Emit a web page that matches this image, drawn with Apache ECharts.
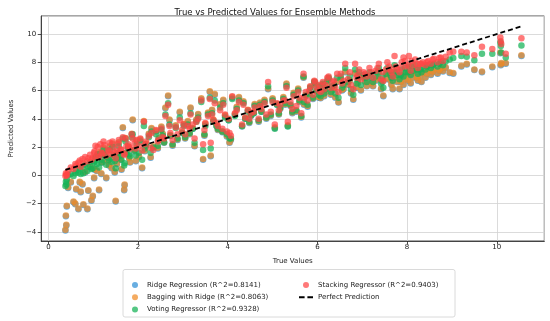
<!DOCTYPE html>
<html><head><meta charset="utf-8">
<script src="https://cdn.jsdelivr.net/npm/echarts@6/dist/echarts.min.js"></script>
<style>html,body{margin:0;padding:0;background:#fff}#c{width:550px;height:321px}</style>
</head><body><div id="c"></div>
<script>
const trueVals = [0.38,0.40,0.39,0.41,0.44,0.50,0.56,0.60,0.62,0.67,
0.70,0.72,0.76,0.78,0.82,0.87,0.89,0.93,0.96,0.99,
1.02,1.05,1.08,1.13,1.16,1.20,1.25,1.29,1.33,1.37,
1.41,1.45,1.50,1.53,1.57,1.61,1.66,1.69,1.70,1.74,
1.78,1.82,1.88,1.92,1.97,
2.02,2.09,2.13,2.18,2.24,2.28,2.34,2.40,2.46,2.52,
2.58,2.61,2.67,2.72,2.77,2.84,2.93,2.98,3.05,3.11,
3.17,3.22,3.26,3.34,3.41,3.45,3.50,3.56,3.60,3.62,
3.68,3.71,3.78,3.83,3.88,3.94,
3.98,4.04,4.07,4.10,4.16,4.25,4.32,4.39,4.45,4.52,
4.60,4.69,4.75,4.82,4.90,4.96,5.05,5.10,5.17,5.24,
5.31,5.34,5.40,5.47,5.53,5.60,5.64,5.69,5.74,5.78,
5.84,5.90,5.93,5.98,
6.03,6.07,6.12,6.18,6.25,6.30,6.37,6.44,6.47,6.55,
6.62,6.68,6.75,6.80,6.84,6.90,6.97,7.03,7.10,7.16,
7.24,7.30,7.37,7.42,7.47,7.53,7.60,7.65,7.68,7.72,
7.78,7.83,7.88,7.92,7.97,
8.04,8.08,8.13,8.18,8.24,8.29,8.35,8.41,8.47,8.53,
8.60,8.68,8.75,8.80,8.86,8.95,9.03,9.21,9.33,9.50,
9.67,9.90,10.08,10.09,10.10,10.20,10.55,
1.03,1.10,1.18,1.23,1.35,1.43,1.48,1.55,1.63,1.72,1.80,1.86,1.95,
2.05,2.15,2.30,2.44,2.55,2.70,2.88,3.02,3.15,3.30,3.48,3.65,3.75,3.90,
4.02,4.20,4.35,4.48,4.58,4.72,4.86,5.00,5.14,5.28,5.44,5.57,5.70,5.82,5.95,
6.05,6.15,6.22,6.33,6.40,6.52,6.58,6.72,6.87,6.93,7.07,7.20,7.34,7.45,7.56,7.63,
7.75,7.86,7.95,8.02,8.10,8.22,8.32,8.44,8.57,8.72];

const ridgePred = [-3.9,-3.55,-2.9,-2.2,-0.9,-0.5,-1.9,-2.05,-1.0,-2.4,
-0.5,-1.2,-0.65,-2.1,0.2,-2.4,-1.1,0.6,-1.8,-1.5,
-0.2,1.2,0.3,-1.05,1.6,0.9,1.4,-0.2,1.0,2.0,
0.5,1.3,-1.85,0.8,2.3,1.1,3.35,-1.05,-0.7,1.5,
2.0,0.9,3.9,1.7,2.4,
1.3,0.5,3.8,2.2,2.9,1.25,2.0,3.1,2.6,3.4,
2.3,4.75,5.6,2.8,2.1,3.5,4.45,3.0,2.6,3.8,
4.75,3.3,2.05,4.3,5.4,1.1,3.6,4.4,5.9,1.35,
3.9,5.7,3.2,5.0,3.05,4.2,
2.75,2.3,2.5,5.5,4.3,5.5,3.45,4.0,4.6,4.2,
5.0,3.8,4.5,5.3,6.1,4.2,3.35,5.0,4.7,5.5,
6.45,3.5,4.9,5.8,4.5,5.2,4.1,6.9,5.6,4.85,
6.2,5.4,6.6,5.9,
5.5,5.45,6.4,5.9,6.8,5.7,6.2,6.6,5.15,6.0,
7.3,6.4,5.8,5.35,7.2,6.5,6.0,6.9,6.3,7.0,
6.3,6.7,7.3,6.1,5.6,6.8,7.1,6.4,6.1,7.3,
6.6,6.1,7.0,6.4,6.8,
7.2,6.5,6.9,7.3,6.7,7.0,7.25,6.9,7.4,7.1,
7.5,7.2,7.55,7.35,7.6,7.25,7.2,7.7,7.85,7.45,
7.3,7.65,8.65,7.8,7.9,7.9,8.45,
0.4,1.5,0.1,1.9,0.7,2.2,0.2,1.4,0.4,2.6,1.2,2.9,1.0,
2.5,1.7,3.3,1.9,2.9,3.9,2.5,3.6,2.9,3.9,2.8,4.6,3.5,5.3,
3.9,4.8,5.2,3.7,4.4,5.1,4.0,5.4,4.3,5.0,4.4,6.1,5.0,5.7,6.4,
6.2,5.6,6.5,6.0,5.5,6.8,6.1,6.7,6.2,7.0,6.6,6.5,6.9,6.6,7.2,6.7,
6.9,6.6,7.1,6.7,7.2,6.9,6.6,7.2,7.3,7.4];

const baggingPred = [-3.85,-3.5,-2.85,-2.15,-0.85,-0.45,-1.85,-2.0,-0.95,-2.35,
-0.45,-1.15,-0.6,-2.05,0.25,-2.35,-1.05,0.65,-1.75,-1.45,
-0.15,1.25,0.35,-1.0,1.65,0.95,1.45,-0.15,1.05,2.05,
0.55,1.35,-1.8,0.85,2.35,1.15,3.4,-1.0,-0.65,1.55,
2.05,0.95,3.95,1.75,2.45,
1.35,0.55,3.85,2.25,2.95,1.3,2.05,3.15,2.65,3.45,
2.35,4.8,5.65,2.85,2.15,3.55,4.5,3.05,2.65,3.85,
4.8,3.35,2.1,4.35,5.45,1.15,3.65,4.45,5.95,1.4,
3.95,5.75,3.25,5.05,3.1,4.25,
2.8,2.35,2.55,5.55,4.35,5.55,3.5,4.05,4.65,4.25,
5.05,3.85,4.55,5.35,6.15,4.25,3.4,5.05,4.75,5.55,
6.5,3.55,4.95,5.85,4.55,5.25,4.15,6.95,5.65,4.9,
6.25,5.45,6.65,5.95,
5.55,5.5,6.45,5.95,6.85,5.75,6.25,6.65,5.2,6.05,
7.35,6.45,5.85,5.4,7.25,6.55,6.05,6.95,6.35,7.05,
6.35,6.75,7.35,6.15,5.65,6.85,7.15,6.45,6.15,7.35,
6.65,6.15,7.05,6.45,6.85,
7.25,6.55,6.95,7.35,6.75,7.05,7.3,6.95,7.45,7.15,
7.55,7.25,7.6,7.4,7.65,7.3,7.25,7.75,7.9,7.5,
7.35,7.7,8.7,7.85,7.95,7.95,8.5,
0.45,1.55,0.15,1.95,0.75,2.25,0.25,1.45,0.45,2.65,1.25,2.95,1.05,
2.55,1.75,3.35,1.95,2.95,3.95,2.55,3.65,2.95,3.95,2.85,4.65,3.55,5.35,
3.95,4.85,5.25,3.75,4.45,5.15,4.05,5.45,4.35,5.05,4.45,6.15,5.05,5.75,6.45,
6.25,5.65,6.55,6.05,5.55,6.85,6.15,6.75,6.25,7.05,6.65,6.55,6.95,6.65,7.25,6.75,
6.95,6.65,7.15,6.75,7.25,6.95,6.65,7.25,7.35,7.45];

const votingPred = [-0.75,-0.65,-0.45,-0.3,0.0,0.1,-0.05,0.15,0.35,0.2,
0.5,0.1,0.55,0.15,0.75,0.3,0.6,0.95,0.45,0.5,
0.9,1.3,0.8,0.55,1.5,1.1,1.5,0.75,1.25,1.8,
0.95,1.45,0.5,1.2,2.05,1.4,2.6,0.7,0.85,1.6,
1.9,1.35,2.9,1.8,2.2,
1.6,1.1,3.5,2.1,2.7,1.6,1.95,2.9,2.5,3.2,
2.35,4.3,5.1,2.8,2.2,3.35,4.1,3.0,2.7,3.6,
4.4,3.3,2.3,4.1,5.2,1.8,3.5,4.3,5.5,1.9,
3.8,5.3,3.3,4.8,3.1,4.1,
2.9,2.6,2.6,5.4,4.2,5.3,3.5,4.0,4.5,4.25,
4.9,3.9,4.5,5.2,6.3,4.3,3.3,5.0,4.8,5.4,
6.3,3.45,5.0,5.7,4.6,5.3,4.2,7.0,5.7,5.0,
6.2,5.5,6.6,6.0,
5.7,5.6,6.5,6.1,6.9,5.9,6.4,6.9,5.5,6.2,
7.6,6.6,6.1,5.7,7.5,6.8,6.4,7.1,6.6,7.3,
6.6,7.0,7.6,6.5,6.2,7.2,7.4,6.9,6.7,7.8,
7.1,6.8,7.5,7.0,7.3,
7.7,7.1,7.4,7.8,7.2,7.5,7.7,7.5,7.8,7.6,
7.9,7.7,8.0,7.8,8.05,8.2,8.3,8.45,8.4,8.15,
8.6,8.6,9.4,9.15,8.7,8.35,9.2,
1.0,1.5,0.9,1.8,1.1,2.0,1.0,1.6,1.1,2.4,1.5,2.7,1.4,
2.4,1.9,3.1,2.1,2.8,3.6,2.6,3.5,3.0,3.8,2.9,4.4,3.5,5.1,
3.9,4.7,5.1,3.8,4.4,5.0,4.1,5.3,4.4,5.1,4.5,6.0,5.2,5.8,6.5,
6.3,5.8,6.7,6.3,5.8,7.0,6.4,7.0,6.5,7.3,6.9,6.9,7.3,7.0,7.6,7.1,
7.3,7.1,7.6,7.3,7.7,7.5,7.3,7.7,7.8,7.9];

const stackingPred = [-0.05,0.05,0.15,0.0,0.3,0.55,0.45,0.8,0.7,0.9,
1.05,0.6,1.15,0.85,1.3,1.0,1.2,1.45,1.1,1.25,
1.6,2.1,1.35,1.3,2.2,1.55,2.15,1.4,1.8,2.3,
1.5,1.95,1.2,1.7,2.5,1.85,2.7,1.45,1.55,2.05,
2.2,1.9,2.6,2.25,2.5,
2.1,1.75,3.8,2.4,2.8,1.95,1.8,3.2,2.5,3.3,
2.6,4.2,5.0,3.0,2.5,3.4,3.9,3.2,2.9,3.5,
4.3,3.6,2.6,4.0,5.3,2.2,3.7,4.2,5.4,2.3,
3.9,5.1,3.5,4.6,3.3,4.3,
3.1,3.0,2.8,5.6,4.4,5.2,3.6,4.1,4.6,4.4,
4.8,4.0,4.7,5.1,6.6,4.5,3.6,5.1,5.0,5.3,
6.2,3.8,5.2,5.6,4.9,5.5,4.4,7.2,5.9,5.3,
6.3,5.7,6.7,6.2,
6.0,5.9,6.6,6.4,7.0,6.2,6.7,7.2,5.9,6.5,
7.9,6.8,6.4,6.1,7.9,7.1,6.8,7.3,7.0,7.6,
6.9,7.4,7.9,6.8,6.7,7.5,7.7,7.3,7.0,8.45,
7.5,7.3,8.0,8.35,7.7,
8.45,7.4,7.8,8.2,7.6,7.9,8.0,7.8,8.1,7.9,
8.25,8.0,8.35,8.1,8.4,8.7,8.75,8.75,8.7,8.5,
9.1,8.95,9.75,9.5,9.3,8.6,9.7,
1.7,2.0,1.6,2.4,1.7,2.4,1.6,2.2,1.8,2.6,2.0,2.9,1.9,
2.6,2.2,3.0,2.4,2.7,3.5,2.9,3.6,3.3,3.8,3.2,4.3,3.7,5.0,
4.0,4.6,5.0,4.0,4.5,4.9,4.3,5.2,4.6,5.3,4.7,5.9,5.5,6.0,6.6,
6.4,6.1,6.9,6.6,6.2,7.2,6.7,7.3,6.9,7.5,7.2,7.3,7.6,7.3,8.0,7.5,
7.7,7.6,8.1,7.8,8.1,7.9,7.9,8.0,8.2,8.3];

const seriesNames = ['Ridge Regression (R^2=0.8141)','Bagging with Ridge (R^2=0.8063)','Voting Regressor (R^2=0.9328)','Stacking Regressor (R^2=0.9403)','Perfect Prediction'];
const xTickLabels = [0,2,4,6,8,10];
const yTickLabels = [-4,-2,0,2,4,6,8,10];

const FONT = 'DejaVu Sans';
const chart = echarts.init(document.getElementById('c'), null, {renderer:'canvas'});
const pts = arr => trueVals.map((t,i)=>[t, arr[i]]);
const lo = Math.min(...trueVals), hi = Math.max(...trueVals);
const fmt = v => {
  const n = Math.round(v*1000)/1000;
  return (xTickLabels.includes(n) || yTickLabels.includes(n)) ? String(n).replace('-', '\u2212') : '';
};
const scatter = (name, data, color) => ({
  name, type:'scatter', data, symbol:'circle', symbolSize:6.5,
  itemStyle:{color, opacity:0.72}, emphasis:{disabled:true}, animation:false
});
const legendText = {fontSize:7, fontFamily:FONT, color:'#222', lineHeight:9};
chart.setOption({
  animation:false,
  backgroundColor:'#fff',
  title:{text:'True vs Predicted Values for Ensemble Methods', left:'center', top:3,
    textStyle:{fontSize:8.5, fontWeight:'normal', fontFamily:FONT, color:'#111'}},
  grid:{left:32, top:16, width:512.3, height:225, show:true, borderColor:'#222', borderWidth:0.8},
  xAxis:{type:'value', min:-0.16, max:11.06, splitNumber:5,
    name:'True Values', nameLocation:'middle', nameGap:16.5,
    nameTextStyle:{fontSize:7, fontFamily:FONT, color:'#222'},
    axisLine:{show:true, onZero:false, lineStyle:{color:'#222', width:0.8}},
    axisTick:{show:true, length:3.5, lineStyle:{color:'#222', width:0.8}},
    axisLabel:{fontSize:7, fontFamily:FONT, color:'#222', margin:3, formatter:fmt, showMinLabel:false, showMaxLabel:false},
    splitLine:{show:true, lineStyle:{color:'#d2d2d2', width:0.8}}},
  yAxis:{type:'value', min:-4.65, max:11.28, splitNumber:8,
    name:'Predicted Values', nameLocation:'middle', nameGap:17,
    nameTextStyle:{fontSize:7, fontFamily:FONT, color:'#222'},
    axisLine:{show:true, onZero:false, lineStyle:{color:'#222', width:0.8}},
    axisTick:{show:true, length:3.5, lineStyle:{color:'#222', width:0.8}},
    axisLabel:{fontSize:7, fontFamily:FONT, color:'#222', margin:5, formatter:fmt, showMinLabel:false, showMaxLabel:false},
    splitLine:{show:true, lineStyle:{color:'#d2d2d2', width:0.8}}},
  legend:[
    {data:[seriesNames[0],seriesNames[1],seriesNames[2]], orient:'vertical', left:132, top:280.5,
     itemWidth:14, itemHeight:6, itemGap:3.2, padding:0, icon:'circle', textStyle:legendText, selectedMode:false},
    {data:[{name:seriesNames[3], icon:'circle'},{name:seriesNames[4], icon:'path://M0,0 H6 V2 H0 Z M9,0 H15 V2 H9 Z', itemStyle:{color:'#000'}}],
     orient:'vertical', left:299, top:280.5,
     itemWidth:14, itemHeight:6, itemGap:3.2, padding:0, textStyle:legendText, selectedMode:false}
  ],
  graphic:[{type:'rect', z:-1, shape:{x:123, y:269.5, width:332, height:47.5, r:2},
    style:{fill:'rgba(255,255,255,0.8)', stroke:'#d0d0d0', lineWidth:0.8}}],
  series:[
    scatter(seriesNames[0], pts(ridgePred), '#2e8fd6'),
    scatter(seriesNames[1], pts(baggingPred), '#f08a24'),
    scatter(seriesNames[2], pts(votingPred), '#13b255'),
    scatter(seriesNames[3], pts(stackingPred), '#ff4545'),
    {name:seriesNames[4], type:'line', data:[[lo,lo],[hi,hi]], symbol:'none', showSymbol:false,
     lineStyle:{color:'#000', width:1.8, type:[5,3]}, itemStyle:{color:'#000'}, z:5, animation:false}
  ]
});
</script></body></html>
